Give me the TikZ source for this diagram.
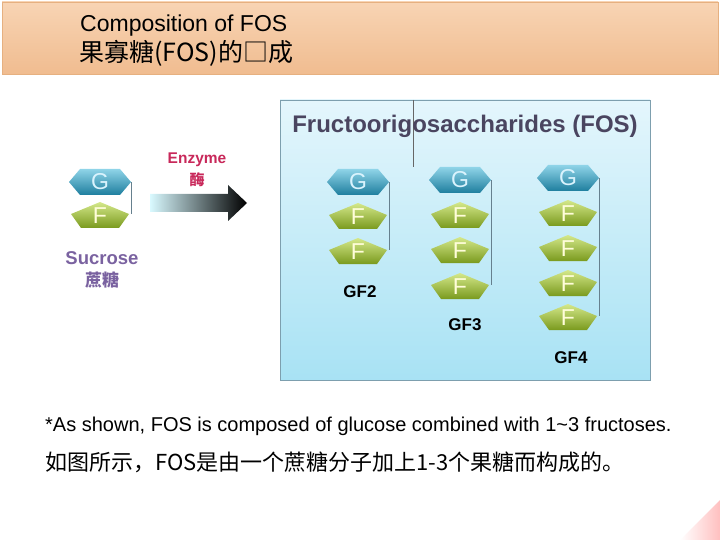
\documentclass[tikz,border=0pt]{standalone}
\usepackage{fontspec}
\usetikzlibrary{calc}
\setmainfont{Liberation Sans}
\newfontfamily\cjk{Noto Sans CJK SC}
\definecolor{gtop}{HTML}{8FD4E8}
\definecolor{gbot}{HTML}{1E7E9E}
\definecolor{ftop}{HTML}{D4E88A}
\definecolor{fbot}{HTML}{7A9A1E}
\definecolor{bandA}{HTML}{F8D4B4}
\definecolor{bandB}{HTML}{F0BC90}
\definecolor{boxA}{HTML}{E4F6FC}
\definecolor{boxB}{HTML}{A8E2F4}
\definecolor{suc}{HTML}{7A62A0}
\definecolor{enz}{HTML}{C8285A}
\definecolor{fost}{HTML}{4A4560}
\begin{document}
\begin{tikzpicture}[x=1pt,y=-1pt,
  gtxt/.style={font=\fontsize{23}{23}\selectfont, text=white!85!cyan, inner sep=0pt},
  ftxt/.style={font=\fontsize{23}{23}\selectfont, text=white!85!yellow, inner sep=0pt},
  lab/.style={font=\bfseries\fontsize{17}{19}\selectfont, inner sep=0pt},
  link/.style={draw=black!50!cyan!60!gray, line width=0.7pt}]
\useasboundingbox (0,0) rectangle (720,540);
% title band
\shade[top color=bandA, bottom color=bandB, draw=bandB!80!brown] (2,2) rectangle (718,74);
\node[anchor=west, font=\fontsize{23}{23}\selectfont, inner sep=0pt] (t1) at (80,26) {Composition of FOS};
\node[anchor=west, font=\cjk\fontsize{25}{25}\selectfont, inner sep=0pt] (t2) at (79,53) {果寡糖(FOS)的□成};
% FOS box
\shade[top color=boxA, bottom color=boxB, draw=cyan!30!gray] (280,100) rectangle (650,380);
\draw[black!60, line width=0.5pt] (413,100) -- (413,167);
\node[font=\bfseries\fontsize{24}{24}\selectfont, text=fost, inner sep=0pt] (fos) at (465,126) {Fructoorigosaccharides (FOS)};
% shapes
\newcommand{\Gblk}[3]{%
  \shade[top color=gtop, bottom color=gbot] ($(#2,#3)+(-31,0)$) -- ++(11,-13) -- ++(40,0) -- ++(11,13) -- ++(-11,13) -- ++(-40,0) -- cycle;
  \node[gtxt] (#1) at (#2,#3) {G};
  \coordinate (#1e) at ($(#2,#3)+(31,0)$);}
\newcommand{\Fblk}[3]{%
  \shade[top color=ftop, bottom color=fbot] ($(#2,#3)+(-29,-2)$) -- ++(29,-12) -- ++(29,12) -- ++(-10,14) -- ++(-38,0) -- cycle;
  \node[ftxt] (#1) at (#2,#3) {F};
  \coordinate (#1e) at ($(#2,#3)+(29,-2)$);}
\Gblk{sg}{100}{182}\Fblk{sf}{100}{216}
\draw[link] (sge) -- (sge |- sfe);
\node[lab, text=suc, font=\bfseries\fontsize{18.5}{20}\selectfont] (suc) at (102,258) {Sucrose};
\node[lab, text=suc, font=\cjk\bfseries\fontsize{17}{19}\selectfont] (suc2) at (102,280) {蔗糖};
\node[lab, text=enz, font=\bfseries\fontsize{15.5}{17}\selectfont] (enz) at (197,160) {Enzyme};
\node[lab, text=enz, font=\cjk\bfseries\fontsize{15}{17}\selectfont] (enz2) at (197,180) {酶};
\shade[left color=blue!15!cyan!15!white, right color=black] (150,194) -- (228,194) -- (228,185) -- (247,203) -- (228,221) -- (228,212) -- (150,212) -- cycle;
% GF2
\Gblk{a0}{358}{182}\Fblk{a1}{358}{217}\Fblk{a2}{358}{252}
\draw[link] (a0e) -- (a0e |- a2e);
\node[lab] (gf2) at (360,292) {GF2};
% GF3
\Gblk{b0}{460}{180}\Fblk{b1}{460}{216}\Fblk{b2}{460}{251}\Fblk{b3}{460}{287}
\draw[link] (b0e) -- (b0e |- b3e);
\node[lab] (gf3) at (465,325) {GF3};
% GF4
\Gblk{c0}{568}{178}\Fblk{c1}{568}{214}\Fblk{c2}{568}{249}\Fblk{c3}{568}{284}\Fblk{c4}{568}{318}
\draw[link] (c0e) -- (c0e |- c4e);
\node[lab] (gf4) at (571,358) {GF4};
% bottom text
\node[anchor=west, font=\fontsize{20}{20}\selectfont, inner sep=0pt] (b1t) at (45,426) {*As shown, FOS is composed of glucose combined with 1\textasciitilde3 fructoses.};
\node[anchor=west, font=\cjk\fontsize{22}{22}\selectfont, inner sep=0pt] (b2t) at (45,462) {如图所示，FOS是由一个蔗糖分子加上1-3个果糖而构成的。};
% corner decoration
\shade[left color=white, right color=red!25!white] (720,500) -- (720,540) -- (680,540) -- cycle;
\end{tikzpicture}
\end{document}
